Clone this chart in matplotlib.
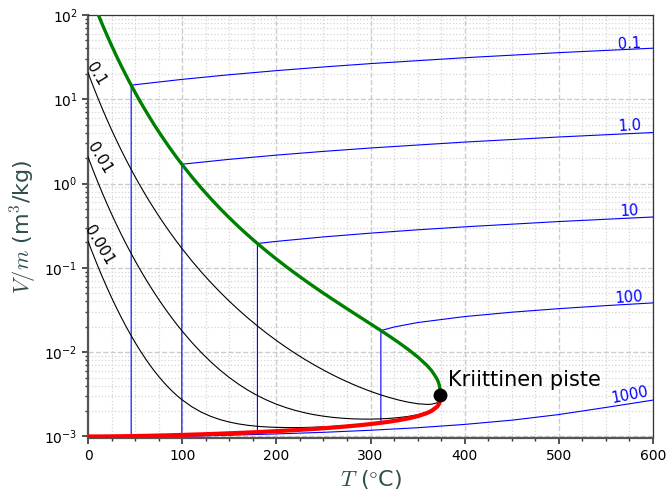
import matplotlib
matplotlib.use("Agg")
import matplotlib.pyplot as plt
from matplotlib.ticker import MultipleLocator, LogLocator, NullFormatter

# Saturation table of water: temperature (°C), liquid and vapour specific volume (m3/kg)
sat_T = [0.01, 5, 10, 15, 20, 25, 30, 35, 40, 45, 50, 55, 60, 65, 70, 75, 80, 85, 90, 95,
         100, 110, 120, 130, 140, 150, 160, 170, 180, 190, 200, 210, 220, 230, 240, 250,
         260, 270, 280, 290, 300, 310, 320, 330, 340, 350, 360, 365, 370, 371, 372, 373,
         373.5, 373.8, 373.9, 373.95]
sat_vf = [0.001000, 0.001000, 0.001000, 0.001001, 0.001002, 0.001003, 0.001004, 0.001006,
          0.001008, 0.001010, 0.001012, 0.001015, 0.001017, 0.001020, 0.001023, 0.001026,
          0.001029, 0.001032, 0.001036, 0.001040, 0.001043, 0.001052, 0.001060, 0.001070,
          0.001080, 0.001091, 0.001102, 0.001114, 0.001127, 0.001141, 0.001157, 0.001173,
          0.001190, 0.001209, 0.001229, 0.001252, 0.001276, 0.001303, 0.001333, 0.001366,
          0.001404, 0.001448, 0.001499, 0.001561, 0.001638, 0.001740, 0.001895, 0.002016,
          0.002222, 0.002276, 0.002358, 0.002494, 0.002604, 0.002740, 0.002841, 0.003106]
sat_vg = [205.99, 147.03, 106.32, 77.885, 57.762, 43.340, 32.879, 25.205, 19.515, 15.251,
          12.026, 9.5639, 7.6670, 6.1935, 5.0396, 4.1291, 3.4053, 2.8261, 2.3593, 1.9808,
          1.6720, 1.2094, 0.89133, 0.66808, 0.50850, 0.39248, 0.30680, 0.24260, 0.19384,
          0.15636, 0.12721, 0.10429, 0.08609, 0.07150, 0.05970, 0.05008, 0.04217, 0.03562,
          0.03015, 0.02556, 0.02166, 0.01834, 0.01548, 0.01298, 0.01078, 0.00880, 0.00695,
          0.00601, 0.00495, 0.004701, 0.004425, 0.004082, 0.003831, 0.003584, 0.003425,
          0.003106]

# Vapour qualities drawn inside the two-phase dome
qualities = [0.1, 0.01, 0.001]
quality_labels = ["0.1", "0.01", "0.001"]
quality_label_T = [8.5, 11.7, 11.7]
quality_label_v = [19.8, 2.0, 0.184]

# Isobars (pressure in bar): temperature (°C) and specific volume (m3/kg)
iso_T_01 = [0, 20, 45.81, 45.81, 50, 100, 150, 200, 250, 300, 400, 500, 600]
iso_v_01 = [0.001000, 0.001002, 0.001010, 14.67, 14.867, 17.196, 19.513, 21.826, 24.136,
            26.446, 31.063, 35.680, 40.296]
iso_T_1 = [0, 50, 99.61, 99.61, 150, 200, 250, 300, 400, 500, 600]
iso_v_1 = [0.001000, 0.001012, 0.001043, 1.6941, 1.9367, 2.1724, 2.4062, 2.6389, 3.1027,
           3.5655, 4.0279]
iso_T_10 = [0, 100, 179.88, 179.88, 200, 250, 300, 350, 400, 500, 600]
iso_v_10 = [0.001000, 0.001043, 0.001127, 0.19436, 0.20602, 0.23275, 0.25799, 0.28250,
            0.30661, 0.35411, 0.40111]
iso_T_100 = [0, 100, 200, 311.0, 311.0, 325, 350, 400, 450, 500, 550, 600]
iso_v_100 = [0.000995, 0.001038, 0.001148, 0.001452, 0.018028, 0.019877, 0.022440,
             0.026436, 0.029782, 0.032811, 0.035655, 0.038378]
iso_T_1000 = [0, 50, 100, 150, 200, 250, 300, 350, 400, 450, 500, 550, 600]
iso_v_1000 = [0.000957, 0.000977, 0.001003, 0.001035, 0.001072, 0.001120, 0.001185,
              0.001270, 0.001390, 0.001560, 0.001820, 0.002210, 0.002700]

isobar_T = [iso_T_01, iso_T_1, iso_T_10, iso_T_100, iso_T_1000]
isobar_v = [iso_v_01, iso_v_1, iso_v_10, iso_v_100, iso_v_1000]
isobar_labels = ["0.1", "1.0", "10", "100", "1000"]
isobar_label_T = [575, 575.5, 575.5, 575, 576]
isobar_label_v = [45.6, 4.80, 0.472, 0.0446, 0.00308]
isobar_label_rot = [3, 3, 3, 4, 11]

# Critical point
crit_T = 373.95
crit_v = 0.003106

fig = plt.figure(figsize=(6.67, 4.97), dpi=100)
ax = fig.add_axes([0.132, 0.118, 0.847, 0.852])

for T, v in zip(isobar_T, isobar_v):
    ax.plot(T, v, color="blue", lw=0.8, zorder=2)
for txt, tx, ty, rot in zip(isobar_labels, isobar_label_T, isobar_label_v, isobar_label_rot):
    ax.text(tx, ty, txt, color="blue", fontsize=10.5, rotation=rot,
            ha="center", va="center", zorder=5)

for q, txt, tx, ty in zip(qualities, quality_labels, quality_label_T, quality_label_v):
    vq = [vf + q * (vg - vf) for vf, vg in zip(sat_vf, sat_vg)]
    ax.plot(sat_T, vq, color="black", lw=0.8, zorder=3)
    ax.text(tx, ty, txt, color="black", fontsize=11, rotation=-59,
            ha="center", va="center", zorder=5)

ax.plot(sat_T, sat_vf, color="red", lw=3, zorder=4, solid_capstyle="butt")
ax.plot(sat_T, sat_vg, color="green", lw=2.4, zorder=4)
ax.plot([crit_T], [crit_v], "o", color="black", markersize=9, zorder=6)
ax.annotate("Kriittinen piste", (crit_T, crit_v), xytext=(6, 11),
            textcoords="offset points", fontsize=15, va="center", ha="left")

ax.set_yscale("log")
ax.set_xlim(0, 600)
ax.set_ylim(0.00095, 100)
ax.xaxis.set_major_locator(MultipleLocator(100))
ax.xaxis.set_minor_locator(MultipleLocator(25))
ax.yaxis.set_major_locator(LogLocator(base=10))
ax.yaxis.set_minor_locator(LogLocator(base=10, subs=range(2, 10)))
ax.yaxis.set_minor_formatter(NullFormatter())

ax.grid(which="major", color="#cccccc", linestyle="--", lw=1.0)
ax.grid(which="minor", color="#d5d5d5", linestyle=":", lw=0.9)
ax.set_axisbelow(True)

for side in ("left", "bottom"):
    ax.spines[side].set_linewidth(1.6)
    ax.spines[side].set_color("#555555")
for side in ("top", "right"):
    ax.spines[side].set_linewidth(0.9)
    ax.spines[side].set_color("#333333")
ax.tick_params(which="major", direction="out", length=4, width=1.2, color="#333333",
               labelsize=10)
ax.tick_params(which="minor", direction="out", length=2.5, width=1.0, color="#333333")

ax.set_xlabel(r"$T$ ($\degree$C)", fontsize=16, color="darkslategray", math_fontfamily="cm")
ax.set_ylabel(r"$V/m$ (m$^3$/kg)", fontsize=16, color="darkslategray", math_fontfamily="cm")

fig.savefig("out.png", dpi=100)
